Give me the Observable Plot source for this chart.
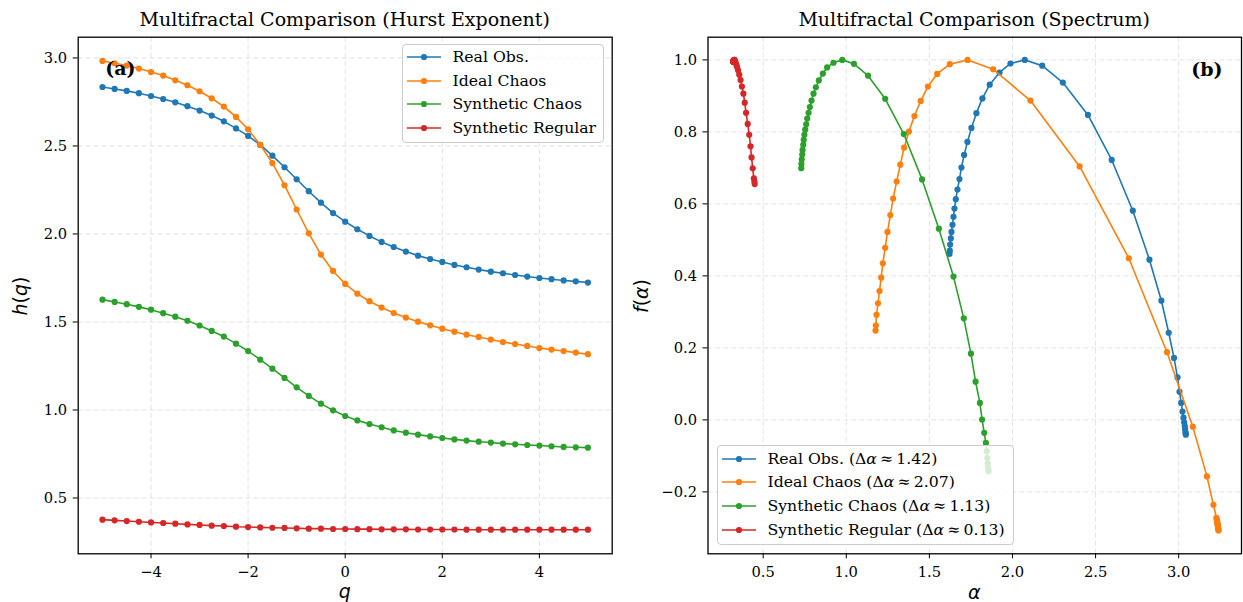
<!DOCTYPE html>
<html>
<head>
<meta charset="utf-8">
<script src="https://cdn.jsdelivr.net/npm/d3@7"></script>
<script src="https://cdn.jsdelivr.net/npm/@observablehq/plot@0.6"></script>
<style>
  body { margin: 0; background: white; }
  #fig { position: relative; width: 1243px; height: 602px; background: white; overflow: hidden; }
  .abs { position: absolute; }
  .title { font-family: "DejaVu Serif", serif; font-size: 19px; line-height: 22px; color: #000; text-align: center; white-space: nowrap; transform: translateX(-50%); }
  .axlabel { font-family: "DejaVu Sans", sans-serif; font-size: 19px; line-height: 22px; color: #000; white-space: nowrap; transform: translate(-50%, -50%); }
  .axlabel.rot { transform: translate(-50%, -50%) rotate(-90deg); }
  .legend { background: rgba(255,255,255,0.8); border: 1px solid #cccccc; border-radius: 4px; box-sizing: border-box; }
  .legrow { position: absolute; font-family: "DejaVu Serif", serif; font-size: 15.7px; line-height: 18px; color: #000; white-space: nowrap; transform: translateY(-50%); }
  .sw { position: absolute; transform: translateY(-50%); }
</style>
</head>
<body>
<div id="fig"></div>
<script>
// ---------------- data ----------------
const seriesNames = ["Real Obs.", "Ideal Chaos", "Synthetic Chaos", "Synthetic Regular"];
const seriesColors = ["#1f77b4", "#ff7f0e", "#2ca02c", "#d62728"];
const deltaAlphaLabels = ["1.42", "2.07", "1.13", "0.13"];

const qValues = [-5, -4.75, -4.5, -4.25, -4, -3.75, -3.5, -3.25, -3, -2.75, -2.5, -2.25, -2, -1.75, -1.5, -1.25, -1, -0.75, -0.5, -0.25,
  0, 0.25, 0.5, 0.75, 1, 1.25, 1.5, 1.75, 2, 2.25, 2.5, 2.75, 3, 3.25, 3.5, 3.75, 4, 4.25, 4.5, 4.75, 5];

const hReal = [2.835, 2.824, 2.813, 2.800, 2.784, 2.767, 2.748, 2.726, 2.701, 2.673, 2.640, 2.600, 2.557, 2.506, 2.445, 2.379, 2.311, 2.243, 2.178, 2.119,
  2.070, 2.027, 1.989, 1.955, 1.926, 1.900, 1.877, 1.858, 1.841, 1.824, 1.811, 1.798, 1.786, 1.777, 1.767, 1.758, 1.750, 1.743, 1.736, 1.731, 1.724];
const hIdeal = [2.983, 2.970, 2.957, 2.940, 2.920, 2.900, 2.873, 2.845, 2.811, 2.771, 2.724, 2.665, 2.595, 2.506, 2.403, 2.277, 2.139, 2.004, 1.883, 1.790,
  1.716, 1.661, 1.618, 1.582, 1.551, 1.525, 1.502, 1.481, 1.462, 1.445, 1.428, 1.415, 1.400, 1.386, 1.375, 1.364, 1.352, 1.343, 1.335, 1.326, 1.317];
const hSynChaos = [1.627, 1.614, 1.601, 1.586, 1.570, 1.550, 1.530, 1.507, 1.480, 1.449, 1.417, 1.377, 1.335, 1.286, 1.235, 1.182, 1.129, 1.080, 1.036, 0.998,
  0.966, 0.941, 0.920, 0.902, 0.884, 0.871, 0.860, 0.850, 0.841, 0.833, 0.826, 0.820, 0.815, 0.809, 0.805, 0.801, 0.798, 0.794, 0.790, 0.788, 0.786];
const hSynRegular = [0.377, 0.373, 0.369, 0.365, 0.361, 0.358, 0.354, 0.350, 0.347, 0.343, 0.341, 0.337, 0.335, 0.333, 0.331, 0.330, 0.328, 0.326, 0.326, 0.324,
  0.324, 0.323, 0.323, 0.322, 0.322, 0.322, 0.321, 0.321, 0.321, 0.321, 0.320, 0.320, 0.320, 0.320, 0.320, 0.320, 0.320, 0.320, 0.320, 0.320, 0.320];

const alphaReal = [3.043, 3.042, 3.041, 3.039, 3.037, 3.033, 3.029, 3.023, 3.015, 3.005, 2.993, 2.972, 2.940, 2.896, 2.824, 2.724, 2.597, 2.454, 2.303, 2.179,
  2.074, 1.988, 1.922, 1.863, 1.819, 1.783, 1.753, 1.729, 1.709, 1.693, 1.681, 1.669, 1.659, 1.651, 1.645, 1.639, 1.633, 1.629, 1.625, 1.623, 1.621];
const fReal = [-0.041, -0.038, -0.034, -0.026, -0.018, -0.007, 0.006, 0.023, 0.047, 0.078, 0.118, 0.172, 0.242, 0.331, 0.445, 0.581, 0.722, 0.847, 0.937, 0.984,
  1.000, 0.990, 0.965, 0.931, 0.893, 0.852, 0.811, 0.772, 0.736, 0.701, 0.669, 0.640, 0.613, 0.587, 0.564, 0.542, 0.522, 0.504, 0.487, 0.470, 0.461];

const alphaIdeal = [3.240, 3.239, 3.238, 3.237, 3.236, 3.235, 3.234, 3.233, 3.232, 3.231, 3.229, 3.227, 3.209, 3.170, 3.085, 2.930, 2.700, 2.404, 2.108, 1.884,
  1.730, 1.623, 1.547, 1.491, 1.448, 1.410, 1.377, 1.348, 1.325, 1.303, 1.282, 1.265, 1.248, 1.234, 1.220, 1.210, 1.200, 1.191, 1.182, 1.178, 1.176];
const fIdeal = [-0.307, -0.305, -0.302, -0.299, -0.296, -0.293, -0.290, -0.287, -0.284, -0.281, -0.277, -0.272, -0.236, -0.157, -0.019, 0.188, 0.449, 0.704, 0.887, 0.974,
  1.000, 0.988, 0.961, 0.926, 0.886, 0.844, 0.801, 0.756, 0.709, 0.662, 0.615, 0.569, 0.522, 0.478, 0.435, 0.395, 0.358, 0.324, 0.292, 0.262, 0.248];

const alphaSynChaos = [1.856, 1.855, 1.853, 1.851, 1.849, 1.845, 1.840, 1.830, 1.817, 1.804, 1.778, 1.750, 1.707, 1.645, 1.557, 1.456, 1.346, 1.234, 1.131, 1.046,
  0.976, 0.923, 0.885, 0.859, 0.835, 0.817, 0.803, 0.791, 0.781, 0.773, 0.765, 0.759, 0.753, 0.748, 0.744, 0.741, 0.737, 0.735, 0.732, 0.730, 0.729];
const fSynChaos = [-0.143, -0.138, -0.132, -0.121, -0.106, -0.087, -0.064, -0.036, 0.001, 0.047, 0.106, 0.184, 0.282, 0.398, 0.531, 0.668, 0.794, 0.892, 0.956, 0.989,
  1.000, 0.992, 0.979, 0.962, 0.943, 0.924, 0.906, 0.887, 0.869, 0.853, 0.837, 0.821, 0.806, 0.792, 0.778, 0.764, 0.750, 0.737, 0.724, 0.711, 0.699];

const alphaSynRegular = [0.449, 0.447, 0.444, 0.437, 0.430, 0.424, 0.416, 0.407, 0.397, 0.389, 0.381, 0.372, 0.364, 0.356, 0.349, 0.343, 0.338, 0.334, 0.331, 0.329,
  0.327, 0.326, 0.325, 0.324, 0.324, 0.323, 0.323, 0.322, 0.322, 0.322, 0.321, 0.321, 0.321, 0.321, 0.320, 0.320, 0.320, 0.320, 0.320, 0.320, 0.320];
const fSynRegular = [0.655, 0.662, 0.671, 0.699, 0.729, 0.760, 0.792, 0.822, 0.853, 0.881, 0.906, 0.926, 0.944, 0.959, 0.971, 0.980, 0.987, 0.992, 0.996, 0.998,
  1.000, 1.000, 0.999, 0.999, 0.999, 0.998, 0.998, 0.998, 0.997, 0.997, 0.997, 0.997, 0.996, 0.996, 0.996, 0.996, 0.996, 0.995, 0.995, 0.995, 0.995];

const xTicksLeft = [-4, -2, 0, 2, 4];
const yTicksLeft = [0.5, 1.0, 1.5, 2.0, 2.5, 3.0];
const xTicksRight = [0.5, 1.0, 1.5, 2.0, 2.5, 3.0];
const yTicksRight = [-0.2, 0.0, 0.2, 0.4, 0.6, 0.8, 1.0];

// ---------------- build tables ----------------
const hSeries = [hReal, hIdeal, hSynChaos, hSynRegular];
const alphaSeries = [alphaReal, alphaIdeal, alphaSynChaos, alphaSynRegular];
const fSeries = [fReal, fIdeal, fSynChaos, fSynRegular];

const hurstRows = seriesNames.map((s, i) => qValues.map((q, j) => ({series: s, q, h: hSeries[i][j]})));
const specRows = seriesNames.map((s, i) => qValues.map((q, j) => ({series: s, q, alpha: alphaSeries[i][j], f: fSeries[i][j]})));

const fig = document.getElementById("fig");
const gridStyle = {stroke: "#b0b0b0", strokeOpacity: 0.35, strokeWidth: 1, strokeDasharray: "5,3"};
const commonStyle = {fontFamily: "'DejaVu Serif', serif", fontSize: "14.7px", color: "black", background: "transparent", overflow: "visible"};

function seriesMarks(rows, xk, yk) {
  const marks = [];
  rows.forEach((r, i) => {
    marks.push(Plot.line(r, {x: xk, y: yk, stroke: seriesColors[i], strokeWidth: 1.6}));
    marks.push(Plot.dot(r, {x: xk, y: yk, fill: seriesColors[i], r: 3.1}));
  });
  return marks;
}

// ---------------- left panel ----------------
const leftPlot = Plot.plot({
  width: 620, height: 572,
  marginLeft: 77.7, marginRight: 8.3, marginTop: 6.7, marginBottom: 48.7,
  style: commonStyle,
  x: {domain: [-5.5, 5.5]},
  y: {domain: [0.183, 3.118]},
  marks: [
    Plot.gridX(xTicksLeft, gridStyle),
    Plot.gridY(yTicksLeft, gridStyle),
    ...seriesMarks(hurstRows, "q", "h"),
    Plot.axisX(xTicksLeft, {tickSize: 5, tickPadding: 8, tickFormat: d3.format("d"), label: null, stroke: "black"}),
    Plot.axisY(yTicksLeft, {tickSize: 5, tickPadding: 6, tickFormat: d3.format(".1f"), label: null, stroke: "black"}),
    Plot.text(["(a)"], {frameAnchor: "top-left", dx: 27, dy: 24, textAnchor: "start", lineAnchor: "top", fontWeight: "bold", fontSize: 19, fill: "black"}),
    Plot.frame({stroke: "black", strokeWidth: 1.3})
  ]
});
leftPlot.classList.add("abs");
leftPlot.style.left = "0px";
leftPlot.style.top = "30px";
fig.appendChild(leftPlot);

// ---------------- right panel ----------------
const rightPlot = Plot.plot({
  width: 623, height: 572,
  marginLeft: 87.5, marginRight: 2, marginTop: 6.7, marginBottom: 48.7,
  style: commonStyle,
  x: {domain: [0.168, 3.378]},
  y: {domain: [-0.372, 1.063]},
  marks: [
    Plot.gridX(xTicksRight, gridStyle),
    Plot.gridY(yTicksRight, gridStyle),
    ...seriesMarks(specRows, "alpha", "f"),
    Plot.axisX(xTicksRight, {tickSize: 5, tickPadding: 8, tickFormat: d3.format(".1f"), label: null, stroke: "black"}),
    Plot.axisY(yTicksRight, {tickSize: 5, tickPadding: 6, tickFormat: d3.format(".1f"), label: null, stroke: "black"}),
    Plot.text(["(b)"], {frameAnchor: "top-right", dx: -19, dy: 25, textAnchor: "end", lineAnchor: "top", fontWeight: "bold", fontSize: 19, fill: "black"}),
    Plot.frame({stroke: "black", strokeWidth: 1.3})
  ]
});
rightPlot.classList.add("abs");
rightPlot.style.left = "620px";
rightPlot.style.top = "30px";
fig.appendChild(rightPlot);

// ---------------- titles & axis labels ----------------
function addDiv(cls, html, left, top) {
  const d = document.createElement("div");
  d.className = "abs " + cls;
  d.innerHTML = html;
  d.style.left = left + "px";
  d.style.top = top + "px";
  fig.appendChild(d);
  return d;
}
addDiv("title", "Multifractal Comparison (Hurst Exponent)", 344.7, 8);
addDiv("title", "Multifractal Comparison (Spectrum)", 974.2, 8);
addDiv("axlabel", "<i>q</i>", 344.7, 591);
addDiv("axlabel", "<i>α</i>", 974.2, 592);
addDiv("axlabel rot", "<i>h</i>(<i>q</i>)", 20, 296);
addDiv("axlabel rot", "<i>f</i>(<i>α</i>)", 641, 296);

// ---------------- legends ----------------
function addLegend(box, rows) {
  const b = document.createElement("div");
  b.className = "abs legend";
  b.style.left = box.x + "px"; b.style.top = box.y + "px";
  b.style.width = box.w + "px"; b.style.height = box.h + "px";
  fig.appendChild(b);
  rows.forEach((r, i) => {
    const y = box.row0 + i * box.step;
    const sw = document.createElementNS("http://www.w3.org/2000/svg", "svg");
    sw.setAttribute("width", 34); sw.setAttribute("height", 8);
    sw.setAttribute("class", "abs sw");
    sw.style.left = box.swx + "px"; sw.style.top = y + "px";
    sw.innerHTML = `<line x1="0" y1="4" x2="34" y2="4" stroke="${seriesColors[i]}" stroke-width="1.6"/><circle cx="17" cy="4" r="3.1" fill="${seriesColors[i]}"/>`;
    fig.appendChild(sw);
    const t = document.createElement("div");
    t.className = "abs legrow";
    t.innerHTML = r;
    t.style.left = box.tx + "px"; t.style.top = y + "px";
    fig.appendChild(t);
  });
}
addLegend({x: 402, y: 44, w: 202, h: 99, row0: 57.3, step: 23.4, swx: 407, tx: 452.5}, seriesNames);
addLegend({x: 717, y: 445, w: 297, h: 100, row0: 458.5, step: 23.8, swx: 722, tx: 767.5},
  seriesNames.map((s, i) => `${s} (Δ<i>α</i>\u2009≈\u2009${deltaAlphaLabels[i]})`));
</script>
</body>
</html>
